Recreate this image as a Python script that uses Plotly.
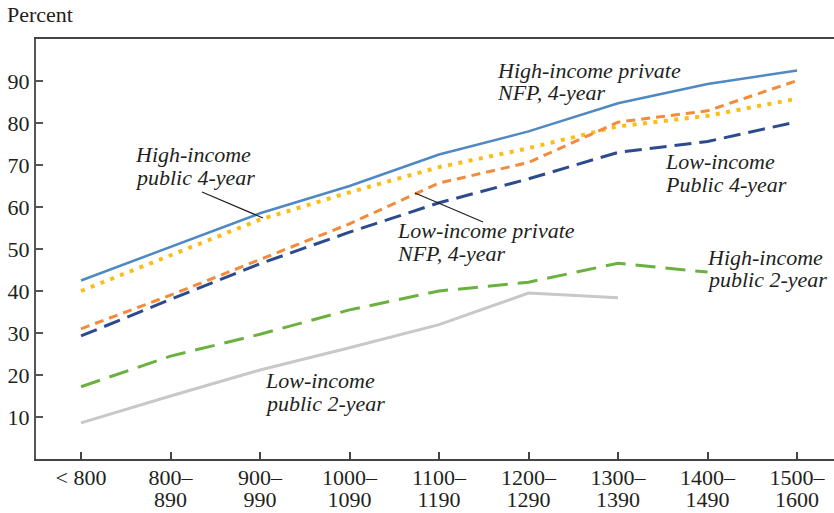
import plotly.graph_objects as go

categories_line1 = ["< 800", "800–", "900–", "1000–", "1100–", "1200–", "1300–", "1400–", "1500–"]
categories_line2 = ["", "890", "990", "1090", "1190", "1290", "1390", "1490", "1600"]

high_private_nfp_4yr = [42.5, 50.5, 58.5, 65.0, 72.5, 78.0, 84.7, 89.3, 92.5]
low_private_nfp_4yr = [31.0, 39.0, 47.5, 56.0, 65.7, 70.6, 80.2, 82.9, 90.1]
high_public_4yr = [40.0, 48.5, 57.0, 63.5, 69.5, 74.0, 79.2, 81.7, 85.8]
low_public_4yr = [29.3, 38.0, 46.5, 54.0, 61.0, 66.7, 73.0, 75.6, 80.3]
high_public_2yr = [17.2, 24.5, 29.7, 35.5, 40.0, 42.1, 46.6, 44.5, None]
low_public_2yr = [8.6, 15.0, 21.2, 26.5, 32.0, 39.5, 38.4, None, None]

W, H = 834, 513
L, R, T, B = 36, 0, 39, 54
PW, PH = W - L - R, H - T - B
FONT = "Liberation Serif"
TXT = "#231f20"

def px(x):
    return (x - L) / PW

def py(y):
    return (H - B - y) / PH

fig = go.Figure()
x = list(range(len(categories_line1)))

series = [
    (low_public_2yr, "#c8c8c8", 3, "solid"),
    (high_public_2yr, "#6ab13f", 3, "20px,10px"),
    (low_public_4yr, "#2c4b8c", 3, "17px,8px"),
    (high_public_4yr, "#fbbd16", 4, "4px,6.5px"),
    (low_private_nfp_4yr, "#f28b3b", 3, "9px,6px"),
    (high_private_nfp_4yr, "#4f88c2", 2.5, "solid"),
]
for vals, col, w, dash in series:
    fig.add_trace(go.Scatter(x=x, y=vals, mode="lines",
                             line=dict(color=col, width=w, dash=dash),
                             connectgaps=False, showlegend=False, hoverinfo="skip"))
# invisible trace to activate second x axis (for the second line of tick labels)
fig.add_trace(go.Scatter(x=x, y=[None] * len(x), xaxis="x2", mode="lines",
                         showlegend=False, hoverinfo="skip"))

labels = [
    ("Percent", 5, 22, "normal"),
    ("High-income private", 495, 78, "italic"),
    ("NFP, 4-year", 495, 100, "italic"),
    ("High-income", 133, 162, "italic"),
    ("public 4-year", 133, 185, "italic"),
    ("Low-income private", 395, 238, "italic"),
    ("NFP, 4-year", 395, 261, "italic"),
    ("Low-income", 663, 169, "italic"),
    ("Public 4-year", 663, 192, "italic"),
    ("High-income", 705, 265, "italic"),
    ("public 2-year", 705, 287, "italic"),
    ("Low-income", 263, 388, "italic"),
    ("public 2-year", 263, 411, "italic"),
]
annotations = []
for text, lx, base, style in labels:
    fs = 22
    annotations.append(dict(text=text, x=px(lx), y=py(base - 0.32 * fs), xref="paper", yref="paper",
                            xanchor="left", yanchor="middle", showarrow=False,
                            font=dict(family=FONT, size=fs, color=TXT, style=style)))

shapes = [
    dict(type="line", xref="paper", yref="paper", x0=px(202), y0=py(192), x1=px(263), y1=py(218),
         line=dict(color="#231f20", width=1.2)),
    dict(type="line", xref="paper", yref="paper", x0=px(415), y0=py(193), x1=px(483), y1=py(222),
         line=dict(color="#231f20", width=1.2)),
]

XR = [-0.503, 8.413]
fig.update_layout(
    width=W, height=H,
    margin=dict(l=L, r=R, t=T, b=B, autoexpand=False),
    paper_bgcolor="white", plot_bgcolor="white",
    annotations=annotations, shapes=shapes,
    xaxis=dict(range=XR, tickmode="array", tickvals=x, ticktext=categories_line1,
               showgrid=False, zeroline=False, showline=True, linecolor="#444", linewidth=2,
               mirror=True, ticks="inside", ticklen=7, tickwidth=1.5, tickcolor="#444",
               automargin=False, ticklabelstandoff=-2,
               tickfont=dict(family=FONT, size=22, color=TXT), fixedrange=True),
    xaxis2=dict(range=XR, overlaying="x", anchor="y", side="bottom",
                tickmode="array", tickvals=x, ticktext=categories_line2,
                showgrid=False, zeroline=False, showline=False, ticks="",
                automargin=False, ticklabelstandoff=25,
                tickfont=dict(family=FONT, size=22, color=TXT), fixedrange=True),
    yaxis=dict(range=[0, 100], tickmode="array", tickvals=[10, 20, 30, 40, 50, 60, 70, 80, 90],
               showgrid=False, zeroline=False, showline=True, linecolor="#555", linewidth=2,
               ticks="inside", ticklen=7, tickwidth=1.5, tickcolor="#555", automargin=False,
               tickfont=dict(family=FONT, size=22, color=TXT), fixedrange=True),
)

fig.write_html("out.html", config={"displayModeBar": False},
               post_script="document.body.style.margin='0';document.body.style.padding='0';"
                           "document.body.style.overflow='hidden';")
